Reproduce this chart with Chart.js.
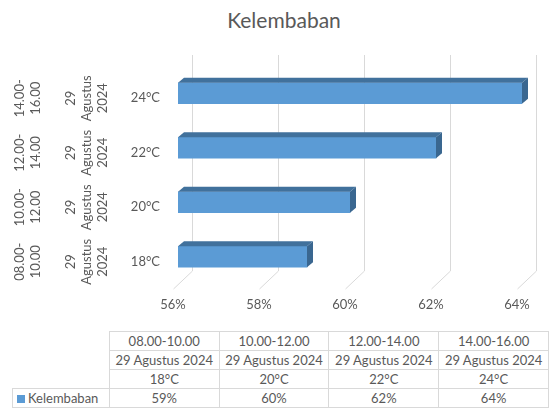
<!DOCTYPE html>
<html>
<head>
<meta charset="utf-8">
<script src="https://cdn.jsdelivr.net/npm/chart.js@4"></script>
<style>
  html, body { margin: 0; padding: 0; background: #fff; }
  body { width: 549px; height: 408px; position: relative; overflow: hidden; font-family: Lato, sans-serif; color: #595959; }
  #title { position: absolute; top: 8px; left: 0; width: 568px; text-align: center; font-size: 21px; line-height: 24px; }
  #wrap { position: absolute; left: 0; top: 0; width: 549px; height: 320px; }
  #tbl { position: absolute; left: 12px; top: 331px; border-collapse: collapse; font-size: 13px; table-layout: fixed; }
  #tbl td { border: 1px solid #d9d9d9; text-align: center; height: 18px; padding: 0; white-space: nowrap; line-height: 18px; }
  #tbl td.blank { border: none; }
  #tbl td.key { text-align: left; padding-left: 4px; }
  .swatch { display: inline-block; width: 8px; height: 8px; background: #5b9bd5; margin-right: 3px; }
</style>
</head>
<body>
<div id="title">Kelembaban</div>
<div id="wrap"><canvas id="chart" width="549" height="320"></canvas></div>
<table id="tbl"></table>
<script>
const times    = ['08.00-10.00', '10.00-12.00', '12.00-14.00', '14.00-16.00'];
const dates    = ['29 Agustus 2024', '29 Agustus 2024', '29 Agustus 2024', '29 Agustus 2024'];
const temps    = ['18°C', '20°C', '22°C', '24°C'];
const humidity = [59, 60, 62, 64];
const xTicks   = [56, 58, 60, 62, 64];
const seriesName = 'Kelembaban';

const GREY = '#595959';
const FONT = { family: 'Lato', size: 13, lineHeight: 1.25 };

// multi-level category labels, split into lines
const timeLabels = times.map(t => { const [a, b] = t.split('-'); return [a + '-', b]; });
const dateLabels = dates.map(d => d.split(' '));

// fake Excel 3D look: back grid, bars pushed back, top + side faces
const fake3d = {
  id: 'fake3d',
  beforeDatasetsDraw(chart) {
    const { ctx, chartArea: a, scales: { x } } = chart;
    ctx.save();
    ctx.strokeStyle = '#d9d9d9';
    ctx.lineWidth = 1;
    x.ticks.forEach(t => {
      const px = Math.round(x.getPixelForValue(t.value)) + 0.5;
      ctx.beginPath();
      ctx.moveTo(px + 19, a.top - 16);
      ctx.lineTo(px + 19, a.bottom - 18);
      ctx.lineTo(px, a.bottom);
      ctx.stroke();
    });
    ctx.restore();
    ctx.save();
    ctx.translate(5, -5);
  },
  afterDatasetsDraw(chart) {
    const ctx = chart.ctx;
    const left = chart.chartArea.left;
    chart.getDatasetMeta(0).data.forEach(bar => {
      const { x, y, base, height } = bar.getProps(['x', 'y', 'base', 'height'], true);
      const b = Math.max(base, left);
      const top = y - height / 2, bot = y + height / 2;
      ctx.fillStyle = '#41719c';
      ctx.beginPath();
      ctx.moveTo(b, top);
      ctx.lineTo(x, top);
      ctx.lineTo(x + 6, top - 5);
      ctx.lineTo(b + 6, top - 5);
      ctx.closePath();
      ctx.fill();
      ctx.fillStyle = '#3a6790';
      ctx.beginPath();
      ctx.moveTo(x, top);
      ctx.lineTo(x + 6, top - 5);
      ctx.lineTo(x + 6, bot - 5);
      ctx.lineTo(x, bot);
      ctx.closePath();
      ctx.fill();
    });
    ctx.restore();
  }
};

const noGrid = { display: false, drawTicks: false };
const yTicks = pad => ({
  minRotation: 90, maxRotation: 90, crossAlign: 'center', autoSkip: false,
  padding: pad, color: GREY, font: FONT
});

new Chart(document.getElementById('chart'), {
  type: 'bar',
  data: {
    labels: temps,
    datasets: [{
      label: seriesName,
      data: humidity,
      backgroundColor: '#5b9bd5',
      borderWidth: 0,
      barThickness: 21
    }]
  },
  options: {
    indexAxis: 'y',
    responsive: false,
    animation: false,
    layout: { padding: { top: 71, right: 32, bottom: 0, left: 0 } },
    plugins: { legend: { display: false }, tooltip: { enabled: false } },
    scales: {
      x: {
        min: xTicks[0], max: xTicks[xTicks.length - 1],
        ticks: { stepSize: xTicks[1] - xTicks[0], callback: v => v + '%', color: GREY, font: FONT, padding: 8 },
        grid: noGrid, border: { display: false },
        afterFit: s => { s.height = 31; }
      },
      y: {
        reverse: true, weight: 0,
        ticks: { autoSkip: false, padding: 13, color: GREY, font: FONT },
        grid: noGrid, border: { display: false },
        afterFit: s => { s.width = 58; }
      },
      y2: {
        type: 'category', labels: dateLabels, position: 'left', reverse: true, weight: 1,
        ticks: yTicks(5), grid: noGrid, border: { display: false },
        afterFit: s => { s.width = 60; }
      },
      y3: {
        type: 'category', labels: timeLabels, position: 'left', reverse: true, weight: 2,
        ticks: yTicks(8), grid: noGrid, border: { display: false },
        afterFit: s => { s.width = 55; }
      }
    }
  },
  plugins: [fake3d]
});

// data table under the chart
const tbl = document.getElementById('tbl');
const colW = [98, 111, 111, 111, 111];
const cg = document.createElement('colgroup');
colW.forEach(w => { const c = document.createElement('col'); c.style.width = w + 'px'; cg.appendChild(c); });
tbl.appendChild(cg);
[times, dates, temps].forEach(row => {
  tbl.insertAdjacentHTML('beforeend',
    '<tr><td class="blank"></td>' + row.map(v => '<td>' + v + '</td>').join('') + '</tr>');
});
tbl.insertAdjacentHTML('beforeend',
  '<tr><td class="key"><span class="swatch"></span>' + seriesName + '</td>' +
  humidity.map(v => '<td>' + v + '%</td>').join('') + '</tr>');
</script>
</body>
</html>
